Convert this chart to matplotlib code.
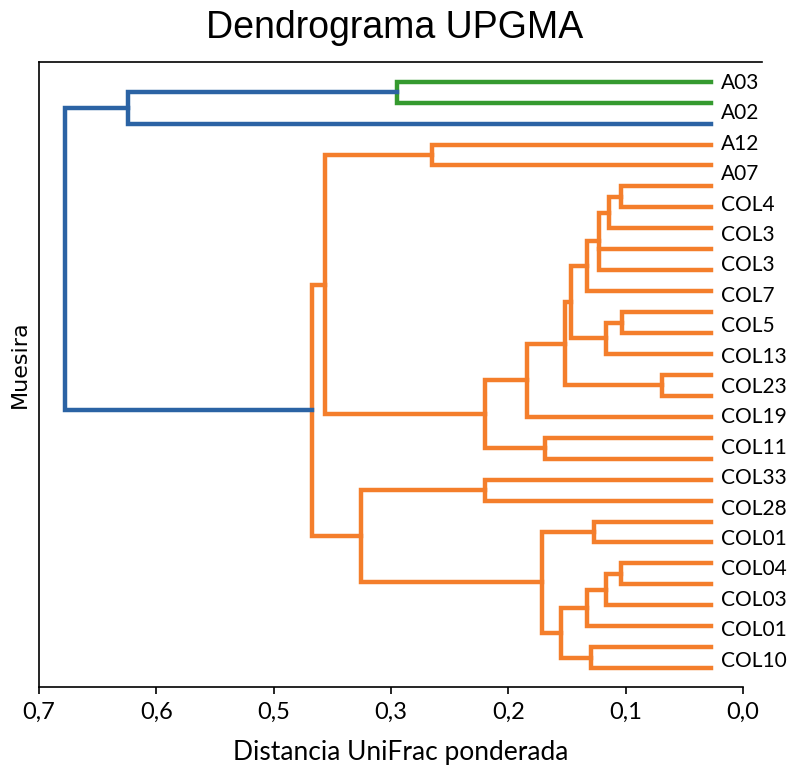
import numpy as np
import matplotlib
matplotlib.use("Agg")
import matplotlib.pyplot as plt

# leaf labels shown on the right (top to bottom)
labels = ["A03", "A02", "A12", "A07", "COL4", "COL3", "COL3", "COL7", "COL5", "COL13",
          "COL23", "COL19", "COL11", "COL33", "COL28", "COL01", "COL04", "COL03", "COL01", "COL10"]

n_leaves = 29          # leaf branches drawn (top to bottom, 0..28)
leaf_tip = 0.032       # distance where leaf branches end

# merges: node name, height (distance), children (leaf index or node name)
node_names = ["g", "b1", "a12", "n621", "n609", "n599", "n587", "n622", "n606", "n571",
              "n662", "n565", "n527", "n545", "n485", "n325", "c28", "n594", "n621b",
              "n606b", "n587b", "n590", "n561", "n542", "n361", "n312", "root"]
node_heights = [0.344, 0.611, 0.309, 0.121, 0.133, 0.143, 0.155, 0.120, 0.136, 0.171,
                0.080, 0.177, 0.215, 0.197, 0.256, 0.416, 0.256, 0.148, 0.121,
                0.136, 0.155, 0.151, 0.181, 0.200, 0.380, 0.429, 0.674]
node_children = [[0, 1], ["g", 2], [3, 4], [5, 6], ["n621", 7], ["n609", 8, 9], ["n599", 10],
                 [11, 12], ["n622", 13], ["n587", "n606"], [14, 15], ["n571", "n662"],
                 ["n565", 16], [17, 18], ["n527", "n545"], ["a12", "n485"], [19, 20],
                 [21, 22], [23, 24], ["n621b", 25], ["n606b", 26], [27, 28],
                 ["n587b", "n590"], ["n594", "n561"], ["c28", "n542"], ["n325", "n361"],
                 ["b1", "n312"]]

# tick labels as printed on the x axis
xtick_labels = ["0,7", "0,6", "0,5", "0,3", "0,2", "0,1", "0,0"]

BLUE = "#2b63a4"
GREEN = "#359a2f"
ORANGE = "#f47e2b"
cluster_colors = {"g": GREEN, "n312": ORANGE}

plt.rcParams["font.family"] = ["Lato", "DejaVu Sans"]

fig = plt.figure(figsize=(7.9, 7.66), dpi=100)
ax = fig.add_axes([39 / 790, 1 - 687 / 766, (762 - 39) / 790, (687 - 62) / 766])

heights = dict(zip(node_names, node_heights))
children = dict(zip(node_names, node_children))

# color inheritance
colors = {}
def paint(name, col):
    col = cluster_colors.get(name, col)
    colors[name] = col
    for c in children[name]:
        if isinstance(c, str):
            paint(c, col)
paint("root", BLUE)

ypos = {}
def node_y(c):
    if isinstance(c, str):
        return ypos[c]
    return float(c)

def node_h(c):
    return heights[c] if isinstance(c, str) else leaf_tip

for name in node_names:
    kids = children[name]
    ys = [node_y(k) for k in kids]
    ypos[name] = (min(ys) + max(ys)) / 2
    h = heights[name]
    col = colors[name]
    kw = dict(color=col, lw=3.2, solid_capstyle="projecting", solid_joinstyle="miter")
    first, last = kids[0], kids[-1]
    ax.plot([node_h(first), h, h, node_h(last)], [ys[0], ys[0], ys[-1], ys[-1]], **kw)
    for k, yk in zip(kids[1:-1], ys[1:-1]):
        ax.plot([h, node_h(k)], [yk, yk], **kw)

label_y = np.linspace(0.06, 27.64, len(labels))
for lab, yl in zip(labels, label_y):
    ax.text(0.022, yl, lab, ha="left", va="center", fontsize=15, color="black")

ax.set_xlim(0.7, -0.019)
ax.set_ylim(28.9, -0.94)
ax.set_xticks(np.linspace(0.7, 0.0, 7))
ax.set_xticklabels(xtick_labels, fontsize=17)
ax.tick_params(axis="x", direction="out", length=5, width=1.2, pad=6)
ax.set_yticks([])
ax.spines["right"].set_visible(False)
ax.spines["bottom"].set_bounds(0.0, 0.7)
for s in ["top", "bottom", "left"]:
    ax.spines[s].set_linewidth(1.2)

ax.set_xlabel("Distancia UniFrac ponderada", fontsize=19, labelpad=12)
ax.set_ylabel("Muesira", fontsize=16, family="DejaVu Sans")
ax.yaxis.set_label_coords(-0.013, 0.517)
fig.suptitle("Dendrograma UPGMA", fontsize=27, family="Liberation Sans", x=0.5, y=0.987, va="top")

fig.savefig("out.png", dpi=100)
